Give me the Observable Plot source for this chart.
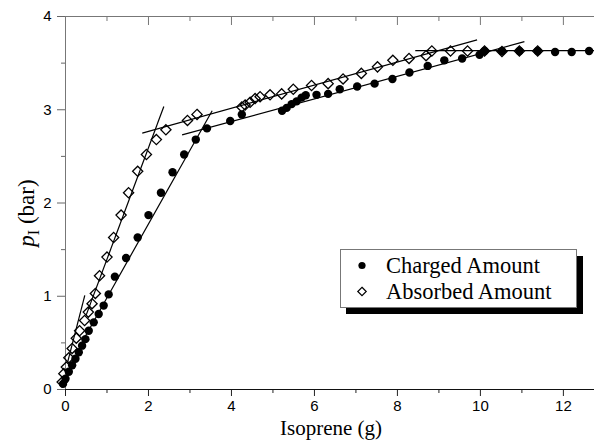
<!DOCTYPE html>
<html><head><meta charset="utf-8">
<script src="https://cdn.jsdelivr.net/npm/d3@7"></script>
<script src="https://cdn.jsdelivr.net/npm/@observablehq/plot@0.6"></script>
<style>
html,body{margin:0;padding:0;background:#fff;}
</style>
</head><body><div id="chart"></div>
<script>
// Charged Amount (filled circles)
const chargedX = [-0.06, 0.0, 0.08, 0.16, 0.24, 0.32, 0.40, 0.48, 0.56, 0.68, 0.80, 0.92, 1.04, 1.19, 1.46, 1.74, 2.00, 2.30, 2.58, 2.86, 3.14, 3.41, 3.97, 4.25, 5.22, 5.33, 5.45, 5.57, 5.69, 5.79, 6.05, 6.33, 6.61, 7.03, 7.45, 7.88, 8.29, 8.73, 9.13, 9.56, 9.98, 10.10, 10.52, 10.94, 11.38, 11.80, 12.20, 12.62];
const chargedY = [0.06, 0.115, 0.19, 0.26, 0.33, 0.40, 0.47, 0.54, 0.63, 0.72, 0.81, 0.90, 1.02, 1.21, 1.41, 1.63, 1.87, 2.11, 2.33, 2.52, 2.68, 2.80, 2.88, 2.95, 2.99, 3.02, 3.06, 3.09, 3.13, 3.155, 3.16, 3.17, 3.22, 3.25, 3.28, 3.33, 3.40, 3.47, 3.53, 3.55, 3.59, 3.63, 3.63, 3.63, 3.63, 3.62, 3.62, 3.63];
// Absorbed Amount (open diamonds)
const absorbedX = [-0.08, -0.04, 0.02, 0.08, 0.16, 0.26, 0.34, 0.46, 0.55, 0.64, 0.72, 0.82, 1.00, 1.16, 1.34, 1.52, 1.74, 1.95, 2.19, 2.42, 2.94, 3.17, 4.25, 4.33, 4.45, 4.57, 4.69, 4.93, 5.21, 5.49, 5.93, 6.33, 6.69, 7.13, 7.52, 7.89, 8.28, 8.69, 8.83, 9.28, 9.69, 10.10, 10.52, 10.94, 11.38];
const absorbedY = [0.08, 0.17, 0.24, 0.34, 0.44, 0.55, 0.63, 0.74, 0.83, 0.92, 1.03, 1.22, 1.42, 1.63, 1.87, 2.11, 2.34, 2.52, 2.68, 2.785, 2.885, 2.95, 3.03, 3.05, 3.08, 3.12, 3.14, 3.16, 3.17, 3.22, 3.26, 3.28, 3.33, 3.39, 3.46, 3.53, 3.55, 3.58, 3.63, 3.63, 3.63, 3.63, 3.625, 3.63, 3.63];
// Fitted straight lines (end points)
const fitName = ["absorbed-initial", "absorbed-steep", "absorbed-upper", "plateau", "charged-steep", "charged-upper"];
const fitX1 = [0.05, 0.50, 1.85, 8.43, 0.35, 2.81];
const fitY1 = [0.29, 0.80, 2.75, 3.635, 0.47, 2.73];
const fitX2 = [0.465, 2.37, 9.92, 12.75, 3.535, 11.06];
const fitY2 = [1.01, 3.035, 3.75, 3.635, 2.99, 3.73];
// Ticks and labels
const xTicksMajor = [0, 2, 4, 6, 8, 10, 12];
const xTicksMinor = [1, 3, 5, 7, 9, 11];
const yTicksMajor = [0, 1, 2, 3, 4];
const yTicksMinor = [0.5, 1.5, 2.5, 3.5];
const xTitle = "Isoprene (g)";
const legendLabels = ["Charged Amount", "Absorbed Amount"];

const charged = chargedX.map((x, i) => ({x, y: chargedY[i]}));
const absorbed = absorbedX.map((x, i) => ({x, y: absorbedY[i]}));
const fits = fitName.map((n, i) => ({n, x1: fitX1[i], y1: fitY1[i], x2: fitX2[i], y2: fitY2[i]}));

const sans = "'Liberation Sans', Arial, Helvetica, sans-serif";
const serif = "'Liberation Serif', 'Times New Roman', Times, serif";

const plot = Plot.plot({
  width: 594, height: 440,
  marginLeft: 65, marginRight: 0, marginTop: 16, marginBottom: 51,
  x: {domain: [0, 12.75]},
  y: {domain: [0, 4]},
  style: {fontFamily: sans, fontSize: "15px", background: "white", color: "black", overflow: "visible"},
  marks: [
    Plot.axisX({anchor: "bottom", ticks: xTicksMajor, tickFormat: d3.format("d"), tickSize: 7, tickPadding: 4, label: null, fontSize: 15, stroke: "#222"}),
    Plot.axisX({anchor: "bottom", ticks: xTicksMinor, tickSize: 4, label: null, fill: "none", stroke: "#222"}),
    Plot.axisX({anchor: "top", ticks: xTicksMajor, tickSize: -8, label: null, fill: "none", stroke: "#777"}),
    Plot.axisX({anchor: "top", ticks: xTicksMinor, tickSize: -4, label: null, fill: "none", stroke: "#777"}),
    Plot.axisY({anchor: "left", ticks: yTicksMajor, tickFormat: d3.format("d"), tickSize: 8, tickPadding: 6, label: null, fontSize: 15, stroke: "#666"}),
    Plot.axisY({anchor: "left", ticks: yTicksMinor, tickSize: 4, label: null, fill: "none", stroke: "#666"}),
    Plot.ruleY([0], {stroke: "#111", strokeWidth: 1.2}),
    Plot.ruleY([4], {stroke: "#777"}),
    Plot.ruleX([0], {stroke: "#777"}),
    Plot.link(fits, {x1: "x1", y1: "y1", x2: "x2", y2: "y2", stroke: "black", strokeWidth: 1.2}),
    Plot.dot(absorbed, {x: "x", y: "y", symbol: "diamond2", r: 4.6, stroke: "black", strokeWidth: 1.3, fill: "none"}),
    Plot.dot(charged, {x: "x", y: "y", symbol: "circle", r: 4.2, fill: "black", stroke: "none"})
  ]
});

const svg = d3.select(plot);
// x-axis title
svg.append("text")
  .attr("x", 331).attr("y", 435)
  .attr("text-anchor", "middle")
  .style("font-family", serif).style("font-size", "21px")
  .text(xTitle);
// y-axis title: p_I (bar)
const yt = svg.append("text")
  .attr("transform", "translate(34,213) rotate(-90)")
  .attr("text-anchor", "middle")
  .style("font-family", serif).style("font-size", "23px");
yt.append("tspan").style("font-style", "italic").text("p");
yt.append("tspan").attr("dy", 5).style("font-size", "16px").text("I");
yt.append("tspan").attr("dy", -5).text(" (bar)");

// legend with drop shadow
const lg = svg.append("g");
lg.append("rect").attr("x", 346).attr("y", 256).attr("width", 237).attr("height", 58).attr("fill", "black");
lg.append("rect").attr("x", 340.5).attr("y", 249.5).attr("width", 236).attr("height", 58)
  .attr("fill", "white").attr("stroke", "#777").attr("stroke-width", 1);
lg.append("path").attr("transform", "translate(362,265.5)")
  .attr("d", d3.symbol(d3.symbolCircle, Math.PI * 3.6 * 3.6)()).attr("fill", "black");
lg.append("path").attr("transform", "translate(362,291.5)")
  .attr("d", d3.symbol(d3.symbolDiamond2, Math.PI * 3.8 * 3.8)())
  .attr("fill", "none").attr("stroke", "black").attr("stroke-width", 1.2);
legendLabels.forEach((t, i) => {
  lg.append("text").attr("x", 386).attr("y", 273 + i * 26)
    .attr("text-anchor", "start")
    .style("font-family", serif).style("font-size", "22.5px").text(t);
});

document.getElementById("chart").appendChild(plot);
</script>
</body></html>
